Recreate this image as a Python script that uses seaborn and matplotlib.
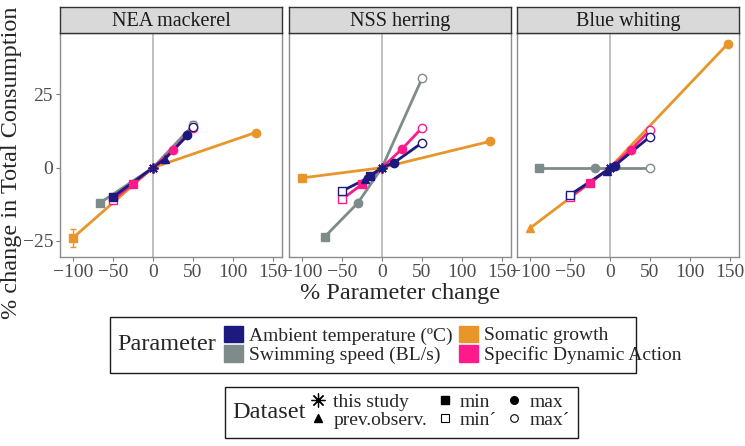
import matplotlib
matplotlib.use("Agg")
import matplotlib.pyplot as plt
from matplotlib.patches import Rectangle, Patch
from matplotlib.lines import Line2D
import numpy as np
import pandas as pd
import seaborn as sns

panels = ["NEA mackerel", "NSS herring", "Blue whiting"]
params = ["Ambient temperature (ºC)", "Swimming speed (BL/s)",
          "Somatic growth", "Specific Dynamic Action"]
datasets = ["this study", "prev.observ.", "min", "min´", "max", "max´"]

# NEA mackerel
mac_temp_x = [-50, 0, 15, 43, 50]
mac_temp_y = [-10, 0, 3, 11, 14]
mac_temp_d = ["min", "this study", "prev.observ.", "max", "max´"]
mac_swim_x = [-66, 0, 50]
mac_swim_y = [-12, 0, 14.5]
mac_swim_d = ["min", "this study", "max´"]
mac_grow_x = [-100, 0, 128]
mac_grow_y = [-24, 0, 12]
mac_grow_d = ["min", "this study", "max"]
mac_sda_x = [-50, -25, 0, 25, 50]
mac_sda_y = [-11, -5.5, 0, 6, 13.5]
mac_sda_d = ["min´", "min", "this study", "max", "max´"]

# NSS herring
her_temp_x = [-50, -21, -15, 0, 15, 50]
her_temp_y = [-8, -4, -2.7, 0, 1.7, 8.5]
her_temp_d = ["min´", "prev.observ.", "min", "this study", "max", "max´"]
her_swim_x = [-71, -30, 0, 50]
her_swim_y = [-23.5, -12, 0, 30.5]
her_swim_d = ["min", "max", "this study", "max´"]
her_grow_x = [-100, 0, 135]
her_grow_y = [-3.5, 0, 9]
her_grow_d = ["min", "this study", "max"]
her_sda_x = [-50, -25, 0, 25, 50]
her_sda_y = [-10.8, -5.7, 0, 6.4, 13.6]
her_sda_d = ["min´", "min", "this study", "max", "max´"]

# Blue whiting
bw_temp_x = [-50, -4, 0, 6, 50]
bw_temp_y = [-9.3, -1, 0, 0.7, 10.6]
bw_temp_d = ["min´", "prev.observ.", "this study", "max", "max´"]
bw_swim_x = [-89, -19, 0, 50]
bw_swim_y = [0, 0, 0, 0]
bw_swim_d = ["min", "max", "this study", "max´"]
bw_grow_x = [-100, 0, 147]
bw_grow_y = [-20.7, 0, 42.3]
bw_grow_d = ["prev.observ.", "this study", "max"]
bw_sda_x = [-50, -25, 0, 26, 50]
bw_sda_y = [-10, -5.2, 0, 6.1, 12.8]
bw_sda_d = ["min´", "min", "this study", "max", "max´"]

# error bars (panel, parameter, x, low, high)
err_panel = ["NEA mackerel", "NEA mackerel"]
err_param = ["Somatic growth", "Swimming speed (BL/s)"]
err_x = [-100, 50]
err_lo = [-27, 13]
err_hi = [-21, 16]

rows = []
table = {
    "NEA mackerel": [(mac_temp_x, mac_temp_y, mac_temp_d), (mac_swim_x, mac_swim_y, mac_swim_d),
                     (mac_grow_x, mac_grow_y, mac_grow_d), (mac_sda_x, mac_sda_y, mac_sda_d)],
    "NSS herring": [(her_temp_x, her_temp_y, her_temp_d), (her_swim_x, her_swim_y, her_swim_d),
                    (her_grow_x, her_grow_y, her_grow_d), (her_sda_x, her_sda_y, her_sda_d)],
    "Blue whiting": [(bw_temp_x, bw_temp_y, bw_temp_d), (bw_swim_x, bw_swim_y, bw_swim_d),
                     (bw_grow_x, bw_grow_y, bw_grow_d), (bw_sda_x, bw_sda_y, bw_sda_d)],
}
for pan in panels:
    for par, (xs, ys, ds) in zip(params, table[pan]):
        for x, y, d in zip(xs, ys, ds):
            rows.append([pan, par, x, y, d])
df = pd.DataFrame(rows, columns=["Panel", "Parameter", "x", "y", "Dataset"])

pal = {"Ambient temperature (ºC)": "#1C1A7E",
       "Swimming speed (BL/s)": "#7E8B8B",
       "Somatic growth": "#E8952A",
       "Specific Dynamic Action": "#FF1A8C"}
draw_order = ["Somatic growth", "Swimming speed (BL/s)",
              "Specific Dynamic Action", "Ambient temperature (ºC)"]
mk = {"this study": ((8, 2, 0), True), "prev.observ.": ("^", True),
      "min": ("s", True), "min´": ("s", False),
      "max": ("o", True), "max´": ("o", False)}

sns.set_theme(style="white")
plt.rcParams["font.family"] = ["Liberation Serif", "DejaVu Serif"]

W, H = 745, 446
fig = plt.figure(figsize=(W / 100, H / 100), dpi=100)

def fr(x0, y0, x1, y1):
    return [x0 / W, 1 - y1 / H, (x1 - x0) / W, (y1 - y0) / H]

lefts = [60, 289, 517]
for i, pan in enumerate(panels):
    x0 = lefts[i]
    ax = fig.add_axes(fr(x0, 33, x0 + 222, 257))
    sax = fig.add_axes(fr(x0, 7, x0 + 222, 33))
    sax.set_facecolor("#D9D9D9")
    sax.set_xticks([]); sax.set_yticks([])
    for s in sax.spines.values():
        s.set_color("#333333"); s.set_linewidth(1)
    sax.text(0.5, 0.45, pan, ha="center", va="center", fontsize=14.5, color="#1A1A1A",
             transform=sax.transAxes)

    ax.axvline(0, color="#B5B5B5", lw=1.2, zorder=0)
    sub = df[df["Panel"] == pan]
    sns.lineplot(data=sub, x="x", y="y", hue="Parameter", hue_order=draw_order,
                 palette=pal, estimator=None, sort=True, legend=False, lw=2, ax=ax)
    for k, par in enumerate(draw_order):
        pp = sub[sub["Parameter"] == par]
        for _, r in pp.iterrows():
            m, filled = mk[r["Dataset"]]
            c = pal[par]
            if r["Dataset"] == "this study":
                ax.plot(r["x"], r["y"], marker=m, ms=7, mec=c, mew=1.2, ls="", zorder=3 + k)
            elif filled:
                ax.plot(r["x"], r["y"], marker=m, ms=6, color=c, mec=c, ls="", zorder=3 + k)
            else:
                ax.plot(r["x"], r["y"], marker=m, ms=6, mfc="white", mec=c, mew=1, ls="", zorder=3 + k)
    for ep, epar, ex, lo, hi in zip(err_panel, err_param, err_x, err_lo, err_hi):
        if ep == pan:
            ax.errorbar([ex], [(lo + hi) / 2], yerr=[[(hi - lo) / 2], [(hi - lo) / 2]],
                        fmt="none", ecolor=pal[epar], elinewidth=1, capsize=2.5, zorder=2)

    ax.set_xlim(-116, 161)
    ax.set_ylim(-30.5, 46)
    ax.set_xticks([-100, -50, 0, 50, 100, 150])
    ax.set_yticks([-25, 0, 25])
    ax.set_xlabel(""); ax.set_ylabel("")
    ax.set_facecolor("white")
    for s in ax.spines.values():
        s.set_color("#8C8C8C"); s.set_linewidth(1)
    ax.tick_params(axis="both", which="both", bottom=True, left=(i == 0), length=3,
                   width=0.8, color="#7F7F7F", labelsize=14, labelcolor="#4D4D4D", pad=2)
    if i > 0:
        ax.set_yticklabels([])

fig.text(400 / W, 1 - 294 / H, "% Parameter change", ha="center", va="center", fontsize=17.5)
fig.text(12 / W, 1 - 163 / H, "% change in Total Consumption", ha="center", va="center",
         rotation=90, fontsize=17.5)

# Parameter legend
fig.patches.append(Rectangle((110 / W, 1 - 373 / H), (636 - 110) / W, (373 - 317) / H,
                             transform=fig.transFigure, fill=False, ec="#1A1A1A", lw=1))
fig.text(117 / W, 1 - 345 / H, "Parameter", ha="left", va="center", fontsize=17.5)
ph = [Patch(facecolor=pal[p], edgecolor=pal[p]) for p in params]
fig.legend(ph, params, loc="center left", bbox_to_anchor=(224 / W, 1 - 345 / H), ncol=2,
           frameon=False, fontsize=14, handlelength=1.0, handleheight=0.9, handletextpad=0.3,
           columnspacing=0.3, labelspacing=0.05, borderpad=0, borderaxespad=0)

# Dataset legend
fig.patches.append(Rectangle((225 / W, 1 - 438 / H), (578 - 225) / W, (438 - 387) / H,
                             transform=fig.transFigure, fill=False, ec="#1A1A1A", lw=1))
fig.text(232 / W, 1 - 412 / H, "Dataset", ha="left", va="center", fontsize=17.5)
dh = []
for d in datasets:
    m, filled = mk[d]
    if d == "this study":
        dh.append(Line2D([], [], marker=m, ms=10, mec="black", mew=0.9, ls=""))
    elif filled:
        dh.append(Line2D([], [], marker=m, ms=5.5, color="black", ls=""))
    else:
        dh.append(Line2D([], [], marker=m, ms=5.5, mfc="white", mec="black", mew=0.8, ls=""))
fig.legend(dh, datasets, loc="center left", bbox_to_anchor=(308 / W, 1 - 411 / H), ncol=3,
           frameon=False, fontsize=14, handlelength=1.0, handletextpad=0.3,
           columnspacing=0.4, labelspacing=0.05, borderpad=0, borderaxespad=0)

fig.savefig("out.png", dpi=100)
